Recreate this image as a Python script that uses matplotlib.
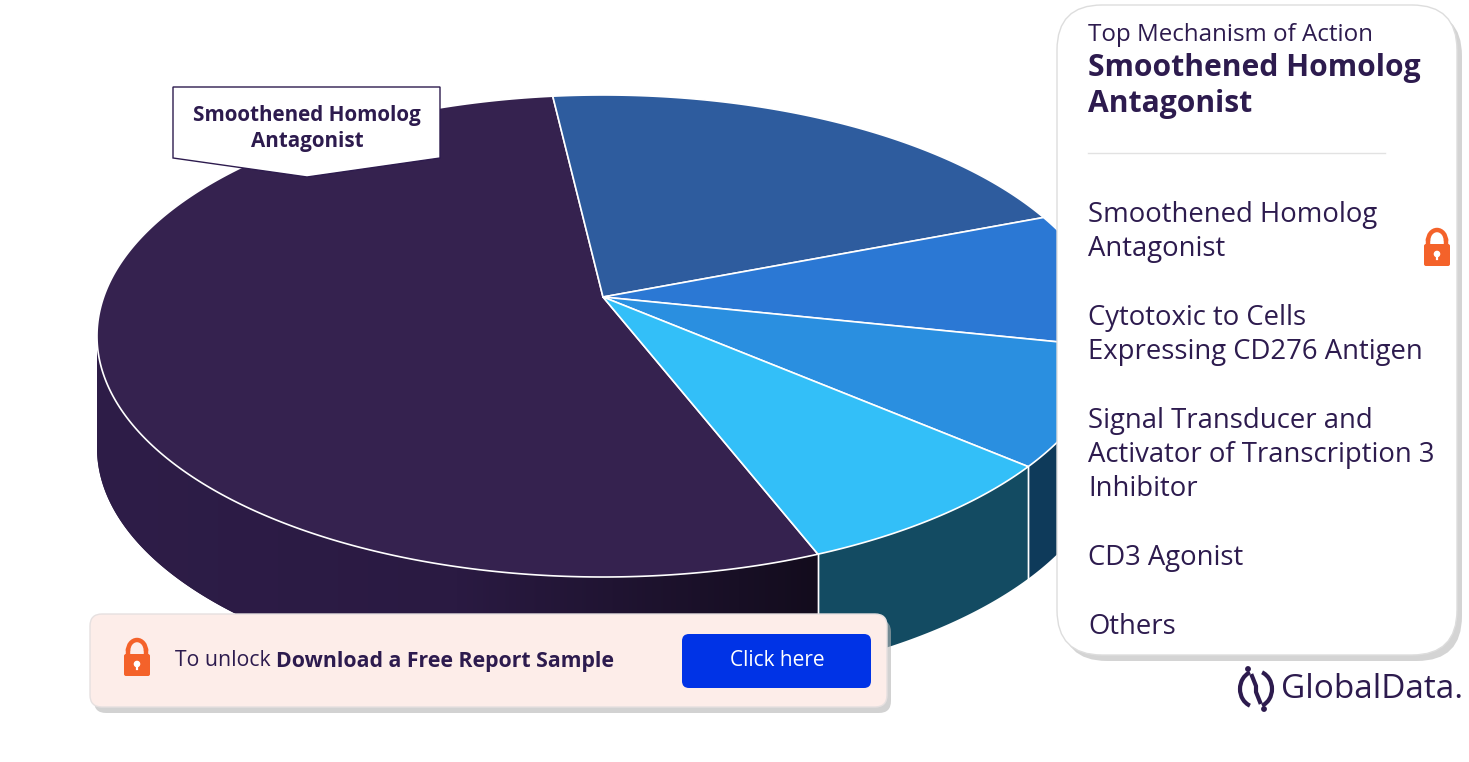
import matplotlib.pyplot as plt
import numpy as np
from matplotlib.patches import Polygon, FancyBboxPatch, Circle, Arc
from matplotlib.colors import LinearSegmentedColormap

# data: share (%) per mechanism of action
labels = ["Smoothened Homolog\nAntagonist",
          "Cytotoxic to Cells\nExpressing CD276 Antigen",
          "Signal Transducer and\nActivator of Transcription 3\nInhibitor",
          "CD3 Agonist",
          "Others"]
shares = [55.4, 18.4, 8.9, 8.4, 8.9]
top_colors = ["#35224F", "#2E5C9E", "#2B78D4", "#2A8FE0", "#33BFF8"]
side_colors = ["#2C1B44", "#1F3F6E", "#0E3A5A", "#0E3A5A", "#134B62"]

TXT = "#2D1B4E"
ORANGE = "#F4622A"
plt.rcParams['font.family'] = ['Open Sans', 'DejaVu Sans']

fig = plt.figure(figsize=(14.69, 7.62), dpi=100)
ax = fig.add_axes([0, 0, 1, 1])
ax.set_xlim(0, 1469)
ax.set_ylim(762, 0)
ax.axis('off')

# pie geometry (pixels)
cx, cy = 603, 336
rx, ry = 506, 241
apex = (603, 297)
depth = 112


def pt(th):
    return cx + rx * np.cos(th), cy - ry * np.sin(th)


# slice boundaries, going clockwise; first slice ends at the top
total = sum(shares)
spans = [c / total * 2 * np.pi for c in shares]
end0 = np.radians(95.7)
bounds = []
a = end0 + spans[0]
for s in spans:
    bounds.append((a, a - s))
    a -= s

# side walls (front half only)
for i, (a0, a1) in enumerate(bounds):
    hi, lo = max(a0, a1), min(a0, a1)
    for k in range(-2, 3):
        f0 = max(lo, np.pi + 2 * np.pi * k)
        f1 = min(hi, 2 * np.pi + 2 * np.pi * k)
        if f1 <= f0:
            continue
        th = np.linspace(f0, f1, 200)
        xs, ys = pt(th)
        poly = np.column_stack([np.r_[xs, xs[::-1]], np.r_[ys, ys[::-1] + depth]])
        patch = Polygon(poly, closed=True, facecolor=side_colors[i], edgecolor='none', zorder=1)
        ax.add_patch(patch)
        if i == 0:
            grad = np.linspace(0, 1, 256).reshape(1, -1)
            cm = LinearSegmentedColormap.from_list('s', ["#2E1D48", "#2A1A42", "#130C1D"])
            im = ax.imshow(grad, cmap=cm, extent=(xs.min(), xs.max(), 760, 300),
                           aspect='auto', zorder=1.5)
            im.set_clip_path(patch)
        # white seam where slices meet on the wall
        for e in (f0, f1):
            if np.pi + 0.01 < (e % (2 * np.pi)) < 2 * np.pi - 0.01:
                x, y = pt(e)
                ax.plot([x, x], [y, y + depth], color='white', lw=1, zorder=2)

ax.set_xlim(0, 1469)
ax.set_ylim(762, 0)

# top faces
for i, (a0, a1) in enumerate(bounds):
    th = np.linspace(a0, a1, 300)
    xs, ys = pt(th)
    poly = np.column_stack([np.r_[apex[0], xs], np.r_[apex[1], ys]])
    ax.add_patch(Polygon(poly, closed=True, facecolor=top_colors[i], edgecolor='white',
                         lw=1.2, joinstyle='round', zorder=3))

# data label callout
box = [(173, 87), (440, 87), (440, 158), (307, 177), (173, 158)]
ax.add_patch(Polygon(box, closed=True, facecolor='white', edgecolor=TXT, lw=1, zorder=5))
for j, line in enumerate(labels[0].split("\n")):
    ax.text(307, 115 + j * 26, line, ha='center', va='center', fontsize=14.9,
            fontweight='bold', color=TXT, zorder=6)

# legend panel
ax.add_patch(FancyBboxPatch((1062, 11), 400, 650, boxstyle="round,pad=0,rounding_size=45",
                            facecolor='#B8B8B8', edgecolor='none', alpha=0.6, zorder=7))
ax.add_patch(FancyBboxPatch((1057, 5), 400, 650, boxstyle="round,pad=0,rounding_size=45",
                            facecolor='white', edgecolor='#DDDDDD', lw=1, zorder=8))
ax.text(1088, 35, "Top Mechanism of Action", ha='left', va='center', fontsize=17.4,
        color=TXT, zorder=9)
for j, line in enumerate(labels[0].split("\n")):
    ax.text(1088, 68 + j * 36, line, ha='left', va='center', fontsize=21.6,
            fontweight='bold', color=TXT, zorder=9)
ax.plot([1088, 1385], [153, 153], color='#E2E2E2', lw=1, zorder=9)

item_y = [215, 318, 421, 558, 627]
for lab, y0 in zip(labels, item_y):
    for j, line in enumerate(lab.split("\n")):
        ax.text(1088, y0 + j * 34, line, ha='left', va='center', fontsize=19.8,
                color=TXT, zorder=9)


def lock(x, y, z=10):
    ax.add_patch(FancyBboxPatch((x - 13, y - 7), 26, 22,
                                boxstyle="round,pad=0,rounding_size=2", facecolor=ORANGE,
                                edgecolor='none', zorder=z))
    ax.add_patch(Arc((x, y - 10), 18, 22, theta1=180, theta2=360, color=ORANGE,
                     lw=3.2, zorder=z))
    ax.plot([x - 9, x - 9], [y - 10.5, y - 6], color=ORANGE, lw=3.2, zorder=z)
    ax.plot([x + 9, x + 9], [y - 10.5, y - 6], color=ORANGE, lw=3.2, zorder=z)
    ax.add_patch(Circle((x, y + 3), 2.6, color='white', zorder=z + 1))
    ax.plot([x, x], [y + 3, y + 8], color='white', lw=1.6, zorder=z + 1)


lock(1437, 251)

# unlock banner
ax.add_patch(FancyBboxPatch((94, 620), 797, 93, boxstyle="round,pad=0,rounding_size=12",
                            facecolor='#B5B5B5', edgecolor='none', alpha=0.6, zorder=10))
ax.add_patch(FancyBboxPatch((90, 614), 797, 93, boxstyle="round,pad=0,rounding_size=12",
                            facecolor='#FDEDE9', edgecolor='#E6E0E0', lw=1, zorder=11))
lock(137, 661, z=12)
t1 = ax.text(175, 661, "To unlock ", ha='left', va='center', fontsize=15.3, color=TXT, zorder=12)
fig.canvas.draw()
bb = t1.get_window_extent()
x_next = ax.transData.inverted().transform((bb.x1, bb.y0))[0]
ax.text(x_next, 661, "Download a Free Report Sample", ha='left', va='center', fontsize=15.3,
        fontweight='bold', color=TXT, zorder=12)
ax.add_patch(FancyBboxPatch((682, 634), 189, 54, boxstyle="round,pad=0,rounding_size=7",
                            facecolor='#0033E6', edgecolor='none', zorder=12))
ax.text(777, 661, "Click here", ha='center', va='center', fontsize=15, color='white', zorder=13)

# GlobalData logo
ax.add_patch(Arc((1256, 689), 32, 36, theta1=110, theta2=250, color=TXT, lw=3, zorder=12))
ax.add_patch(Arc((1256, 689), 32, 36, theta1=-70, theta2=70, color=TXT, lw=3, zorder=12))
ax.plot([1252, 1256, 1256, 1260], [676, 686, 692, 702], color=TXT, lw=3, zorder=12)
ax.add_patch(Circle((1248, 669), 2.2, color=TXT, zorder=12))
ax.add_patch(Circle((1264, 709), 2.2, color=TXT, zorder=12))
ax.text(1281, 689, "GlobalData.", ha='left', va='center', fontsize=24, fontweight='medium',
        color=TXT, zorder=12)

fig.savefig("out.png", dpi=100)
